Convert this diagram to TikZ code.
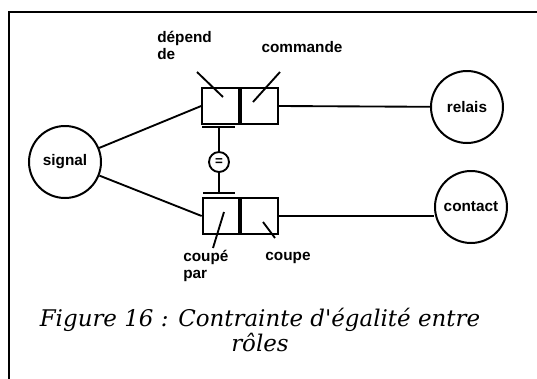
\documentclass[tikz,border=0pt]{standalone}
\usepackage{fontspec}
\newfontfamily\lblfont{Liberation Sans}
\newfontfamily\capfont{DejaVu Serif}
\begin{document}
\begin{tikzpicture}[x=0.75pt,y=-0.75pt,
  ent/.style={draw,circle,line width=1.5pt,minimum size=54pt,inner sep=0pt,font=\lblfont\bfseries\fontsize{11.5}{13}\selectfont},
  cell/.style={draw,rectangle,line width=1.5pt,minimum width=27.5pt,minimum height=27pt,inner sep=0pt},
  conn/.style={line width=1.4pt},
  lbl/.style={font=\lblfont\bfseries\fontsize{11.5}{12.75}\selectfont,inner sep=0pt,align=left},
  eqc/.style={draw,circle,line width=1.4pt,minimum size=15pt,inner sep=0pt,font=\lblfont\bfseries\fontsize{10}{10}\selectfont}]
\useasboundingbox (0,0) rectangle (537,379);
% frame (top and left only)
\draw[line width=1.5pt] (9,379) -- (9,12) -- (537,12);
% entities
\node[ent] (signal) at (65,162) {signal};
\node[ent] (relais) at (467,107) {relais};
\node[ent] (contact) at (471,207) {contact};
% role boxes
\node[cell] (a1) at (220.5,106) {};
\node[cell,anchor=west] (a2) at (a1.east) {};
\node[cell] (b1) at (221,216) {};
\node[cell,anchor=west] (b2) at (b1.east) {};
% connectors
\draw[conn] (signal) -- (a1.west);
\draw[conn] (signal) -- (b1.west);
\draw[conn] (a2.east) -- (relais);
\draw[conn] (b2.east) -- (b2.east -| contact.west);
% equality constraint
\node[eqc] (eq) at (219,162) {=};
\coordinate (ta) at (202,127);
\coordinate (tb) at (235,127);
\coordinate (tm) at (219,127);
\coordinate (ba) at (203,193);
\coordinate (bb) at (235,193);
\coordinate (bm) at (219,193);
\draw[conn] (ta) -- (tb);
\draw[conn] (ba) -- (bb);
\draw[conn] (tm) -- (eq);
\draw[conn] (eq) -- (bm);
% role labels
\node[lbl,anchor=north west] (ldep) at (157,31) {dépend\\de};
\node[lbl] (lcom) at (302,47) {commande};
\node[lbl,anchor=north west] (lcp) at (183,250) {coupé\\par};
\node[lbl] (lcoupe) at (288,258) {coupe};
% label ticks
\coordinate (d1) at (197,72); \coordinate (d2) at (223,97);
\coordinate (c1) at (280,72); \coordinate (c2) at (253,102);
\coordinate (p1) at (224,212); \coordinate (p2) at (213,248);
\coordinate (q1) at (263,222); \coordinate (q2) at (275,238);
\draw[conn] (d1) -- (d2);
\draw[conn] (c1) -- (c2);
\draw[conn] (p1) -- (p2);
\draw[conn] (q1) -- (q2);
% caption
\node[font=\capfont\itshape\fontsize{17.2}{17}\selectfont,align=center] (cap) at (260,330) {Figure 16 : Contrainte d'égalité entre\\rôles};
\end{tikzpicture}
\end{document}
